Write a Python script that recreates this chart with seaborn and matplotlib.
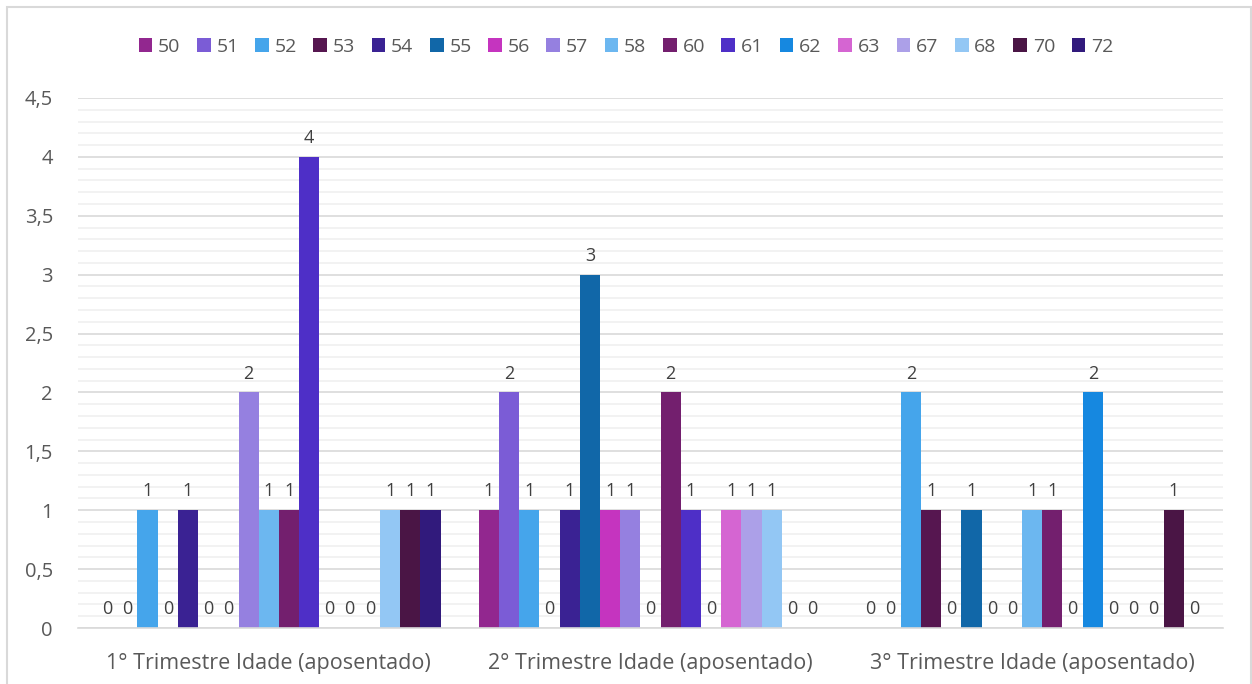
import numpy as np
import pandas as pd
import matplotlib
matplotlib.use("Agg")
import matplotlib.pyplot as plt
import seaborn as sns
from matplotlib.patches import Rectangle
from matplotlib.ticker import MultipleLocator, FuncFormatter

# data
trimestres = ['1° Trimestre Idade (aposentado)',
              '2° Trimestre Idade (aposentado)',
              '3° Trimestre Idade (aposentado)']
idades = ['50', '51', '52', '53', '54', '55', '56', '57', '58',
          '60', '61', '62', '63', '67', '68', '70', '72']
t1 = [0, 0, 1, 0, 1, 0, 0, 2, 1, 1, 4, 0, 0, 0, 1, 1, 1]
t2 = [1, 2, 1, 0, 1, 3, 1, 1, 0, 2, 1, 0, 1, 1, 1, 0, 0]
t3 = [0, 0, 2, 1, 0, 1, 0, 0, 1, 1, 0, 2, 0, 0, 0, 1, 0]
colors = ['#92278F', '#7B5CD6', '#45A5EB', '#561650', '#3A2293', '#1167A8',
          '#C534BF', '#9580E0', '#6CB7F0', '#731F6E', '#4E2FC7', '#1688E0',
          '#D565D2', '#ACA0E8', '#93C7F4', '#4A1545', '#311A7C']

rows = []
for tri, vals in zip(trimestres, [t1, t2, t3]):
    for idade, v in zip(idades, vals):
        rows.append({'trimestre': tri, 'idade': idade, 'valor': v})
df = pd.DataFrame(rows)

sns.set_style("white")
plt.rcParams['font.family'] = ['Open Sans', 'DejaVu Sans']
grey = '#595959'

fig = plt.figure(figsize=(12.52, 6.84), dpi=100)
ax = fig.add_axes([78 / 1252, 1 - 628 / 684, (1223 - 78) / 1252, (628 - 98) / 684])

sns.barplot(data=df, x='trimestre', y='valor', hue='idade', hue_order=idades,
            order=trimestres, palette=colors, width=0.9, ax=ax,
            errorbar=None, saturation=1, linewidth=0, legend=True)

# value labels on every bar, zeros included
for cont in ax.containers:
    ax.bar_label(cont, fmt='%d', padding=7, fontsize=13, color='#404040')

ax.set_ylim(0, 4.5)
ax.set_xlim(-0.5, 2.5)
ax.yaxis.set_major_locator(MultipleLocator(0.5))
ax.yaxis.set_minor_locator(MultipleLocator(0.1))
ax.yaxis.set_major_formatter(FuncFormatter(lambda v, p: ('%g' % v).replace('.', ',')))
ax.grid(which='major', axis='y', color='#D9D9D9', linewidth=1.2)
ax.grid(which='minor', axis='y', color='#F0F0F0', linewidth=1.2)
ax.set_axisbelow(True)
for s in ['left', 'right', 'top']:
    ax.spines[s].set_visible(False)
ax.spines['bottom'].set_color('#D9D9D9')
ax.spines['bottom'].set_linewidth(1.2)
ax.tick_params(axis='y', which='both', length=0, pad=18, labelsize=14.5, labelcolor=grey)
ax.tick_params(axis='x', length=0, pad=18, labelsize=15.5, labelcolor=grey)
ax.set_xlabel('')
ax.set_ylabel('')

handles, labels = ax.get_legend_handles_labels()
ax.legend(handles, labels, loc='center', bbox_to_anchor=(0.5, (684 - 47) / 684),
          bbox_transform=fig.transFigure, ncol=17, frameon=False,
          handlelength=0.7, handleheight=0.7, handletextpad=0.3,
          columnspacing=0.85, fontsize=14, labelcolor=grey, borderaxespad=0)

# chart area border
fig.patches.append(Rectangle((7 / 1252, -0.1), (1251 - 7) / 1252, 1.1 - 7 / 684,
                             transform=fig.transFigure, fill=False,
                             edgecolor='#D9D9D9', linewidth=1.5))

fig.savefig('out.png', dpi=100)
